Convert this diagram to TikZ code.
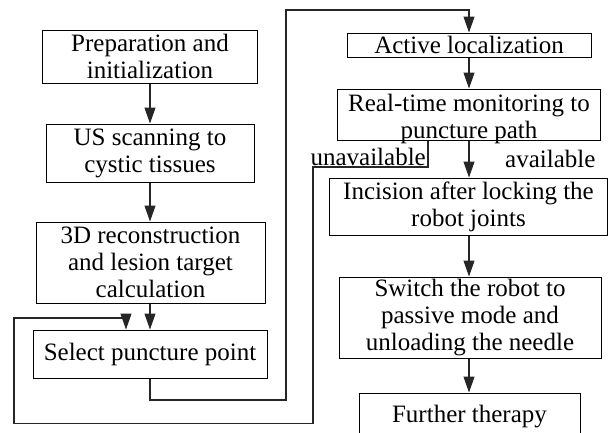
\documentclass[tikz,border=0pt]{standalone}
\usepackage{fontspec}
\setmainfont{Liberation Serif}
\usetikzlibrary{arrows.meta,positioning,calc}
\tikzset{
  box/.style={draw=black,line width=1pt,inner sep=0pt,align=center,font=\fontsize{25}{27}\selectfont},
  txt/.style={inner sep=0pt,align=center,font=\fontsize{25}{27}\selectfont},
  lbl/.style={inner sep=0pt,font=\fontsize{25}{27}\selectfont},
  conn/.style={draw=black!85,line width=1.1pt},
  arr/.style={conn,-{Triangle[length=16pt,width=11pt]}}
}
\begin{document}
\begin{tikzpicture}[x=1pt,y=-1pt]
\clip (0,0) rectangle (608,432);
\useasboundingbox (0,0) rectangle (608,432);
% left column
\node[box,minimum width=215pt,minimum height=53pt] (p1) at (150,56.5) {Preparation and\\initialization};
\node[box,minimum width=208pt,minimum height=58pt] (p2) at (150,153) {US scanning to\\cystic tissues};
\node[box,minimum width=229pt,minimum height=81pt] (p3) at (150.5,262.5) {3D reconstruction\\and lesion target\\calculation};
\node[box,minimum width=234pt,minimum height=48pt] (p4) at (150,354) {Select puncture point};
% right column
\node[box,minimum width=244pt,minimum height=24pt] (p5) at (469,45) {Active localization};
\node[box,minimum width=263pt,minimum height=51pt] (p6) at (469,114.5) {};
\node[txt] (p6t) at (469,118.5) {Real-time monitoring to\\puncture path};
\node[box,minimum width=278pt,minimum height=57pt] (p7) at (468.5,206.5) {Incision after locking the\\robot joints};
\node[box,minimum width=262pt,minimum height=81pt] (p8) at (470,317.5) {Switch the robot to\\passive mode and\\unloading the needle};
\node[box,minimum width=221pt,minimum height=48pt] (p9) at (469.5,417) {Further therapy};
% labels
\node[lbl,anchor=base east] (lu) at (426,165) {unavailable};
\node[lbl,anchor=base west] (la) at (505,167) {available};
% coordinates
\coordinate (c1) at (286,400);
\coordinate (c2) at (286,10);
\coordinate (u1) at (428,167);
\coordinate (u2) at (313,167);
\coordinate (u3) at (313,423.5);
\coordinate (u4) at (14,423.5);
\coordinate (u5) at (14,318);
\coordinate (u6) at (126,318);
% connectors
\draw[arr] (p1.south -| p2.north) -- (p2.north);
\draw[arr] (p2.south) -- (p2.south |- p3.north);
\draw[arr] (p4.north |- p3.south) -- (p4.north);
\draw[arr] (p4.south) |- (c1) -- (c2) -| (p5.north);
\draw[arr] (p5.south) -- (p5.south |- p6.north);
\draw[arr] (p6.south -| p5.south) -- (p7.north -| p5.south);
\draw[conn] (p6.south -| u1) -- (u1) -- (u2) -- (u3) -- (u4) -- (u5) -- (u6);
\draw[arr] (u6) -- (u6 |- p4.north);
\draw[arr] (p7.south -| p5.south) -- (p8.north -| p5.south);
\draw[arr] (p8.south -| p5.south) -- (p9.north -| p5.south);
\end{tikzpicture}
\end{document}
